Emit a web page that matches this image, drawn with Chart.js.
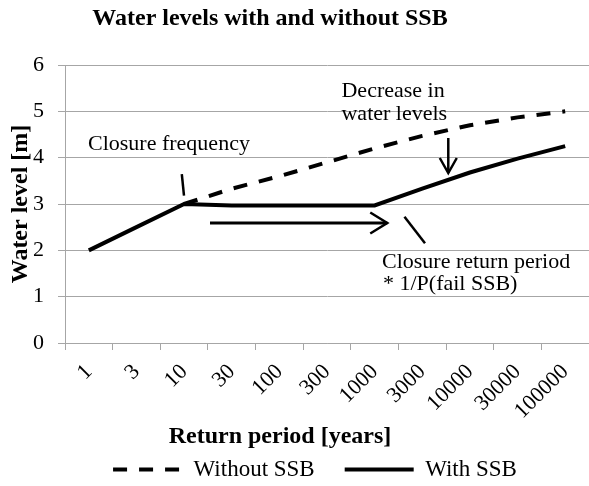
<!DOCTYPE html>
<html><head><meta charset="utf-8">
<script src="https://cdn.jsdelivr.net/npm/chart.js@4/dist/chart.umd.min.js"></script>
<style>html,body{margin:0;padding:0;background:#fff;overflow:hidden}</style>
</head><body>
<canvas id="c" width="589" height="486"></canvas>
<script>
const categories = ['1','3','10','30','100','300','1000','3000','10000','30000','100000'];
const withoutSSB = [null, null, 3.0, 3.33, 3.6, 3.9, 4.2, 4.47, 4.7, 4.87, 5.0];
const withSSB = [2.0, 2.5, 3.0, 2.97, 2.97, 2.97, 2.97, 3.33, 3.68, 3.98, 4.25];
const yMin = 0, yMax = 6, yStep = 1;
const chartTitle = 'Water levels with and without SSB';
const xTitle = 'Return period [years]';
const yTitle = 'Water level [m]';
const seriesNames = ['Without SSB', 'With SSB'];
const noteClosureFreq = 'Closure frequency';
const noteDecrease = ['Decrease in', 'water levels'];
const noteReturn = ['Closure return period', '* 1/P(fail SSB)'];

const SERIF = '"Liberation Serif", "Times New Roman", serif';
Chart.defaults.font.family = SERIF;
Chart.defaults.color = '#000';
const GRID = '#a6a6a6';

const decor = {
  id: 'decor',
  afterLayout(chart) {
    chart.legend.left -= 12;
    chart.legend.right -= 12;
  },
  afterDraw(chart) {
    const {ctx, scales: {x, y}} = chart;
    const X = v => x.getPixelForValue(v), Y = v => y.getPixelForValue(v);
    ctx.save();
    ctx.fillStyle = '#000';
    ctx.strokeStyle = '#000';
    ctx.lineCap = 'butt';
    const seg = (x1, y1, x2, y2, w) => { ctx.lineWidth = w; ctx.beginPath(); ctx.moveTo(x1, y1); ctx.lineTo(x2, y2); ctx.stroke(); };
    // closure frequency marker
    seg(X(1.952), Y(3.647), X(1.998), Y(3.183), 2.5);
    // horizontal arrow
    const ay = Y(2.59), ax1 = X(2.544), ax2 = X(6.265);
    seg(ax1, ay, ax2, ay, 3);
    ctx.lineWidth = 2.5; ctx.beginPath();
    ctx.moveTo(ax2 - 17, ay - 10.5); ctx.lineTo(ax2, ay); ctx.lineTo(ax2 - 17, ay + 10.5); ctx.stroke();
    // diagonal marker
    seg(X(6.626), Y(2.726), X(7.057), Y(2.152), 2.5);
    // down arrow
    const dx = X(7.546), dy1 = Y(4.425), dy2 = Y(3.669);
    seg(dx, dy1, dx, dy2, 2.5);
    ctx.lineWidth = 2.5; ctx.beginPath();
    ctx.moveTo(dx - 8.5, dy2 - 15); ctx.lineTo(dx, dy2); ctx.lineTo(dx + 8.5, dy2 - 15); ctx.stroke();
    // notes
    ctx.font = '22px ' + SERIF;
    ctx.textAlign = 'left';
    ctx.textBaseline = 'alphabetic';
    ctx.fillText(noteClosureFreq, X(-0.017), Y(4.166));
    ctx.fillText(noteDecrease[0], X(5.304), Y(5.316));
    ctx.fillText(noteDecrease[1], X(5.304), Y(4.813));
    ctx.fillText(noteReturn[0], X(6.154), Y(1.619));
    ctx.fillText(noteReturn[1], X(6.175), Y(1.144));
    // titles
    ctx.font = 'bold 24px ' + SERIF;
    ctx.textAlign = 'center';
    ctx.fillText(chartTitle, 270, 25);
    ctx.fillText(xTitle, 280, 443);
    ctx.restore();
  }
};

new Chart(document.getElementById('c'), {
  type: 'line',
  data: {
    labels: categories,
    datasets: [
      {label: seriesNames[0], data: withoutSSB, borderColor: '#000', backgroundColor: '#000',
       borderWidth: 4, borderDash: [14, 12], pointRadius: 0, fill: false, tension: 0},
      {label: seriesNames[1], data: withSSB, borderColor: '#000', backgroundColor: '#000',
       borderWidth: 4, pointRadius: 0, fill: false, tension: 0}
    ]
  },
  options: {
    responsive: false, animation: false, devicePixelRatio: 1,
    layout: {padding: {top: 65, left: 0, right: 0, bottom: -5}},
    plugins: {
      title: {display: false},
      tooltip: {enabled: false},
      legend: {
        position: 'bottom', fullSize: false,
        labels: {
          usePointStyle: true, pointStyle: 'line', pointStyleWidth: 69,
          font: {size: 23}, color: '#000', padding: 30,
          generateLabels: chart => chart.data.datasets.map((ds, i) => ({
            text: ds.label, fillStyle: ds.borderColor, strokeStyle: ds.borderColor,
            lineWidth: ds.borderWidth, lineDash: ds.borderDash || [], lineCap: 'butt',
            pointStyle: 'line', datasetIndex: i, hidden: false, fontColor: '#000'
          }))
        }
      }
    },
    scales: {
      x: {
        type: 'category', offset: true,
        grid: {offset: true, drawOnChartArea: false, drawTicks: true, tickLength: 7, color: GRID},
        border: {color: GRID},
        ticks: {autoSkip: false, maxRotation: 45, minRotation: 45, font: {size: 22}, color: '#000', padding: 9},
        afterFit: s => { s.height = 85; s.paddingLeft = 0; s.paddingRight = 0; }
      },
      y: {
        min: yMin, max: yMax,
        ticks: {stepSize: yStep, font: {size: 22}, color: '#000', padding: 14},
        grid: {color: GRID, tickLength: 7},
        border: {color: GRID},
        title: {display: true, text: yTitle, font: {size: 24, weight: 'bold'}, color: '#000', padding: {top: 6, bottom: 0}},
        afterFit: s => { s.width = 65; }
      }
    }
  },
  plugins: [decor]
});
</script>
</body></html>
